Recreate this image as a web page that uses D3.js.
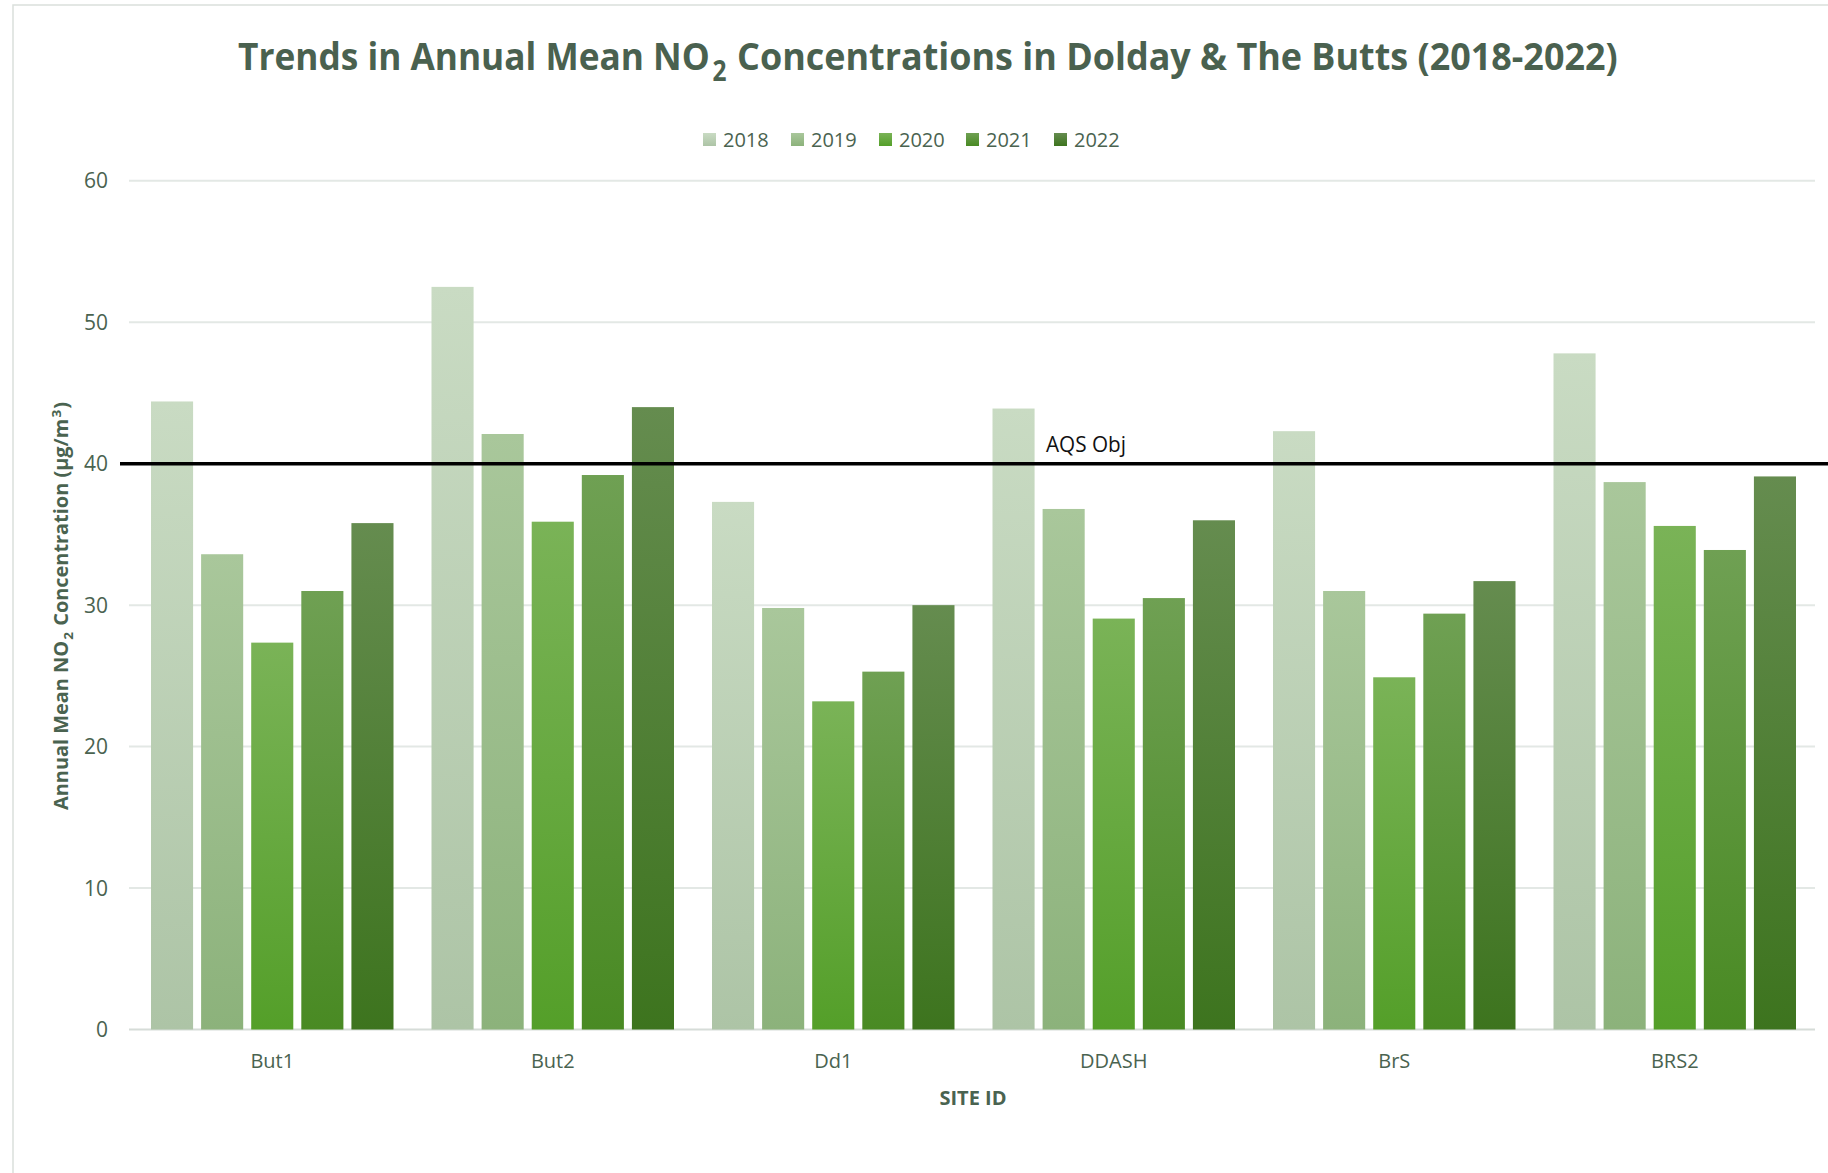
<!DOCTYPE html>
<html><head><meta charset="utf-8">
<script src="https://cdn.jsdelivr.net/npm/d3@7"></script>
<style>body{margin:0;background:#fff}svg{display:block}</style>
</head><body><svg id="c" width="1828" height="1173"></svg>
<script>
const sites = ["But1","But2","Dd1","DDASH","BrS","BRS2"];
const years = ["2018","2019","2020","2021","2022"];
const v2018 = [44.4, 52.5, 37.3, 43.9, 42.3, 47.8];
const v2019 = [33.6, 42.1, 29.8, 36.8, 31.0, 38.7];
const v2020 = [27.35, 35.9, 23.2, 29.05, 24.9, 35.6];
const v2021 = [31.0, 39.2, 25.3, 30.5, 29.4, 33.9];
const v2022 = [35.8, 44.0, 30.0, 36.0, 31.7, 39.1];
const yTicks = [0,10,20,30,40,50,60];
const aqsValue = 40;

const series = [v2018,v2019,v2020,v2021,v2022];
const grads = [["#c9dbc3","#adc4a6"],["#a9c79b","#8cb27b"],["#7ab357","#549f29"],["#6fa053","#498a23"],["#658c4f","#3d741e"]];
const txt = "#4a6350";
const F = "'Open Sans', sans-serif";

const svg = d3.select("#c");
const defs = svg.append("defs");
grads.forEach((g,i)=>{
  const lg = defs.append("linearGradient").attr("id","g"+i).attr("x1",0).attr("y1",0).attr("x2",0).attr("y2",1);
  lg.append("stop").attr("offset","0%").attr("stop-color",g[0]);
  lg.append("stop").attr("offset","100%").attr("stop-color",g[1]);
});

svg.append("rect").attr("x",13).attr("y",5).attr("width",1830).attr("height",1180)
  .attr("fill","#fff").attr("stroke","#dadfdc").attr("stroke-width",1.5);

const x0 = d3.scaleBand().domain(sites).range([132,1815]).padding(0);
const x1 = d3.scaleBand().domain(years).range([19, x0.bandwidth()-19]).paddingInner(0.16).paddingOuter(0);
const y = d3.scaleLinear().domain([0,60]).range([1029.5,180.8]);

// gridlines
svg.append("g").selectAll("line").data(yTicks).join("line")
  .attr("x1",129).attr("x2",1815).attr("y1",d=>y(d)).attr("y2",d=>y(d))
  .attr("stroke",d=>d===0?"#d6dcd8":"#e3e8e5").attr("stroke-width",2);

// y tick labels
svg.append("g").selectAll("text").data(yTicks).join("text")
  .attr("x",108).attr("y",d=>y(d)).attr("dy","0.36em").attr("text-anchor","end")
  .attr("font-family",F).attr("font-size",21).attr("fill",txt)
  .text(d=>d);

// bars
const g = svg.append("g");
sites.forEach((s,si)=>{
  years.forEach((yr,yi)=>{
    const val = series[yi][si];
    g.append("rect").attr("x",x0(s)+x1(yr)).attr("width",x1.bandwidth())
      .attr("y",y(val)).attr("height",y(0)-y(val)).attr("fill","url(#g"+yi+")");
  });
});

// AQS line
svg.append("line").attr("x1",120).attr("x2",1828).attr("y1",y(aqsValue)).attr("y2",y(aqsValue))
  .attr("stroke","#000").attr("stroke-width",3.5);
svg.append("text").attr("x",1046).attr("y",y(aqsValue)-12)
  .attr("font-family",F).attr("font-size",21).attr("fill","#111")
  .attr("textLength",80).attr("lengthAdjust","spacingAndGlyphs")
  .text("AQS Obj");

// x labels
svg.append("g").selectAll("text").data(sites).join("text")
  .attr("x",d=>x0(d)+x0.bandwidth()/2).attr("y",1068).attr("text-anchor","middle")
  .attr("font-family",F).attr("font-size",20).attr("fill",txt)
  .text(d=>d);

// x axis title
svg.append("text").attr("x",973).attr("y",1105).attr("text-anchor","middle")
  .attr("font-family",F).attr("font-weight","bold")
  .attr("font-size",20).attr("fill",txt).text("SITE ID");

// y axis title
const yt = svg.append("text").attr("transform","translate(68,606) rotate(-90)").attr("text-anchor","middle")
  .attr("font-family",F).attr("font-weight","bold").attr("font-size",19).attr("fill",txt)
  .attr("textLength",408).attr("lengthAdjust","spacingAndGlyphs");
yt.append("tspan").text("Annual Mean NO");
yt.append("tspan").attr("font-size",13).attr("dy",5).attr("dx",1).text("2");
yt.append("tspan").attr("dy",-5).attr("dx",1).text(" Concentration (µg/m");
yt.append("tspan").attr("font-size",13).attr("dy",-7).attr("dx",1).text("3");
yt.append("tspan").attr("dy",7).attr("dx",1).text(")");

// title: three pieces, each horizontally scaled to its measured target width
const titleColor = "#4a614f";
function condensed(str, x, yb, size, target){
  const t = svg.append("text").attr("x",0).attr("y",0)
    .attr("font-family",F).attr("font-weight","bold").attr("font-size",size).attr("fill",titleColor)
    .text(str);
  const w = t.node().getComputedTextLength();
  t.attr("transform",`translate(${x},${yb}) scale(${target/w},1)`);
}
condensed("Trends in Annual Mean NO", 238, 70, 38, 472);
condensed("2", 712.5, 81, 28, 14);
condensed("Concentrations in Dolday & The Butts (2018-2022)", 737, 70, 38, 881);

// legend
const legX = [703,791,879,966,1054];
const lg = svg.append("g");
years.forEach((yr,i)=>{
  lg.append("rect").attr("x",legX[i]).attr("y",133).attr("width",13).attr("height",13).attr("fill","url(#g"+i+")");
  lg.append("text").attr("x",legX[i]+20).attr("y",140).attr("dy","0.36em")
    .attr("font-family",F).attr("font-size",20).attr("fill",txt).text(yr);
});
</script></body></html>
